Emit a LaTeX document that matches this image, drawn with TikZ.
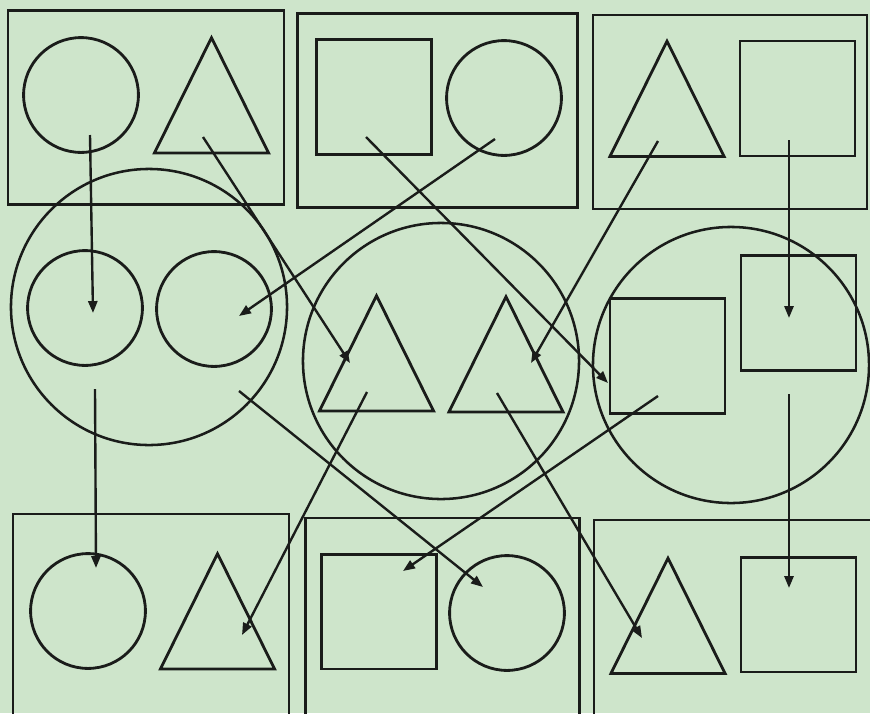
\documentclass[tikz,border=0pt]{standalone}
\usetikzlibrary{shapes.geometric, arrows.meta}
\definecolor{paper}{RGB}{206,229,203}
\definecolor{ink}{RGB}{26,28,26}
\tikzset{
  frame/.style={rectangle, draw=ink, line width=2pt, minimum width=6.9cm, minimum height=4.85cm},
  group/.style={circle, draw=ink, line width=1.8pt, minimum size=6.9cm, inner sep=0pt},
  circ/.style={circle, draw=ink, line width=2pt, minimum size=2.87cm, inner sep=0pt},
  sq/.style={rectangle, draw=ink, line width=2pt, minimum size=2.87cm, inner sep=0pt},
  tri/.style={isosceles triangle, isosceles triangle stretches, shape border rotate=90, minimum width=2.85cm, minimum height=2.88cm, inner sep=0pt, draw=ink, line width=2pt},
  arrow/.style={line width=1.7pt, draw=ink, -{Triangle[length=8.5pt,width=6.5pt]}}
}

\begin{document}
\begin{tikzpicture}[x=0.025cm, y=-0.025cm]
    \useasboundingbox (0,0) rectangle (870,713);
    \fill[paper] (0,0) rectangle (870,713);
    \clip (0,0) rectangle (870,713);

    % Rahmen
    \node (box1) [frame] at (146,107.5) {};
    \node (box2) [frame, minimum width=6.98cm] at (437.5,110.5) {};
    \node (box3) [frame, minimum width=6.85cm] at (730,112) {};
    \node (box4) [frame, minimum height=6.25cm] at (151,639) {};
    \node (box5) [frame, minimum width=6.83cm, minimum height=6.25cm] at (442.5,643) {};
    \node (box6) [frame, minimum width=7.65cm, minimum height=6.25cm] at (747,645) {};

    % Gruppen
    \node (g1) [group] at (149,307) {};
    \node (g2) [group] at (441,361) {};
    \node (g3) [group] at (731,365) {};

    % obere Reihe
    \node (c1) [circ] at (81,95) {};
    \node (t1) [tri] at (211.5,117.5) {};
    \node (s2) [sq] at (374,97) {};
    \node (c2) [circ] at (504,98) {};
    \node (t3) [tri] at (667,121) {};
    \node (s3) [sq] at (797.5,98.5) {};

    % mittlere Reihe
    \node (c4) [circ] at (85,308) {};
    \node (c5) [circ] at (214,309) {};
    \node (t4) [tri] at (376.5,375.5) {};
    \node (t5) [tri] at (506,376.5) {};
    \node (s4) [sq] at (667.5,356) {};
    \node (s5) [sq] at (798.5,313) {};

    % untere Reihe
    \node (c7) [circ] at (88,611) {};
    \node (t7) [tri] at (217.5,633.5) {};
    \node (s8) [sq] at (379,611.5) {};
    \node (c8) [circ] at (507,613) {};
    \node (t9) [tri] at (668,638) {};
    \node (s9) [sq] at (798.5,614.5) {};

    % oben -> Mitte
    \draw [arrow] ([shift={(9,40)}]c1.center) -- ([shift={(8,5)}]c4.center);
    \draw [arrow] ([shift={(-8.5,19.5)}]t1.center) -- ([shift={(-26.5,-12.5)}]t4.center);
    \draw [arrow] ([shift={(-8,40)}]s2.center) -- ([shift={(-59.5,27)}]s4.center);
    \draw [arrow] ([shift={(-9,41)}]c2.center) -- ([shift={(25,7)}]c5.center);
    \draw [arrow] ([shift={(-9,20)}]t3.center) -- ([shift={(25,-13.5)}]t5.center);
    \draw [arrow] ([shift={(-8.5,41.5)}]s3.center) -- ([shift={(-9.5,5)}]s5.center);

    % Mitte -> unten
    \draw [arrow] ([shift={(-54,82)}]g1.center) -- ([shift={(8,-43)}]c7.center);
    \draw [arrow] ([shift={(90,84)}]g1.center) -- ([shift={(-24,-26)}]c8.center);
    \draw [arrow] ([shift={(-9.5,16.5)}]t4.center) -- ([shift={(24.5,1.5)}]t7.center);
    \draw [arrow] ([shift={(-9,16.5)}]t5.center) -- ([shift={(-26,0)}]t9.center);
    \draw [arrow] ([shift={(-9.5,40)}]s4.center) -- ([shift={(24,-40.5)}]s8.center);
    \draw [arrow] ([shift={(58,29)}]g3.center) -- ([shift={(-9.5,-26.5)}]s9.center);

\end{tikzpicture}
\end{document}
